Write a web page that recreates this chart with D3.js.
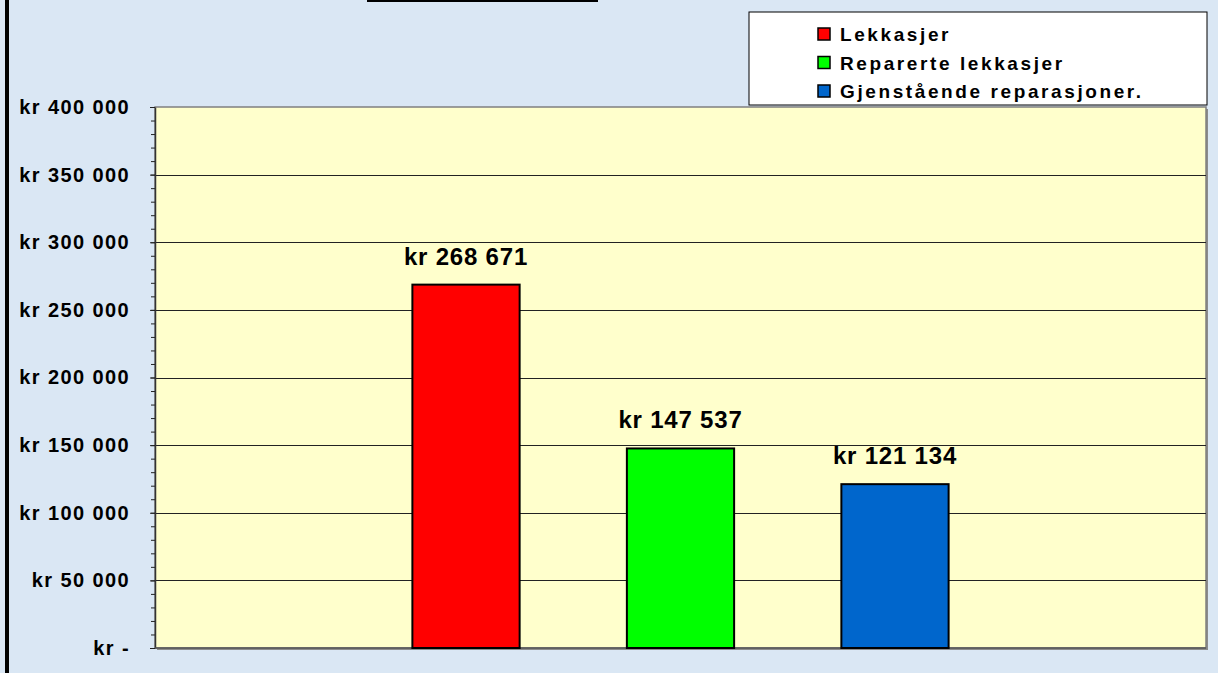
<!DOCTYPE html>
<html>
<head>
<meta charset="utf-8">
<script src="https://cdn.jsdelivr.net/npm/d3@7"></script>
<style>
  body { margin: 0; background: #dae7f4; }
  svg { display: block; font-family: "Liberation Sans", Arial, sans-serif; font-weight: bold; }
</style>
</head>
<body>
<svg id="chart" width="1218" height="673"></svg>
<script>
// chart data
const series = ['Lekkasjer', 'Reparerte lekkasjer', 'Gjenstående reparasjoner.'];
const values = [268671, 147537, 121134];
const colors = ['#ff0000', '#00ff00', '#0066cc'];
const yTicks = [0, 50000, 100000, 150000, 200000, 250000, 300000, 350000, 400000];

const svg = d3.select('#chart');
const plot = { left: 155, right: 1206, top: 107, bottom: 648 };

// kr formatting, space as thousands separator
const fmt = v => v === 0 ? 'kr -' : 'kr ' + d3.format(',')(v).replace(/,/g, ' ');

// background + left rule + clipped title edge
svg.append('rect').attr('width', 1218).attr('height', 673).attr('fill', '#dae7f4');
svg.append('rect').attr('x', 5).attr('y', 0).attr('width', 4).attr('height', 673).attr('fill', '#000');
svg.append('rect').attr('x', 367).attr('y', 0).attr('width', 231).attr('height', 2).attr('fill', '#000');

const y = d3.scaleLinear().domain([0, 400000]).range([plot.bottom, plot.top]);
const x = d3.scaleBand().domain(series).range([plot.left, plot.right])
  .paddingInner(0.5).paddingOuter(1.2);

// plot area with shadow
svg.append('rect')
  .attr('x', plot.left + 2).attr('y', plot.top + 2)
  .attr('width', plot.right - plot.left).attr('height', plot.bottom - plot.top)
  .attr('fill', '#8c8c8c');
svg.append('rect')
  .attr('x', plot.left).attr('y', plot.top)
  .attr('width', plot.right - plot.left).attr('height', plot.bottom - plot.top)
  .attr('fill', '#ffffcc')
  .attr('stroke', '#808080').attr('stroke-width', 1.5);

// gridlines
svg.append('g').selectAll('line')
  .data(yTicks.filter(d => d > 0 && d < 400000))
  .enter().append('line')
  .attr('x1', plot.left).attr('x2', plot.right)
  .attr('y1', d => Math.round(y(d)) + 0.5).attr('y2', d => Math.round(y(d)) + 0.5)
  .attr('stroke', '#222').attr('stroke-width', 1.2);

// minor ticks
svg.append('g')
  .attr('transform', `translate(${plot.left},0)`)
  .call(d3.axisLeft(y).ticks(40).tickSize(4).tickFormat(''))
  .call(g => g.select('.domain').remove())
  .selectAll('line').attr('stroke', '#222');

// y axis
const yAxis = svg.append('g')
  .attr('transform', `translate(${plot.left},0)`)
  .call(d3.axisLeft(y).tickValues(yTicks).tickSize(5).tickPadding(20).tickSizeOuter(0).tickFormat(fmt));
yAxis.select('.domain').attr('stroke', '#333').attr('stroke-width', 1.5);
yAxis.selectAll('line').attr('stroke', '#222');
yAxis.selectAll('text')
  .attr('font-size', 20).attr('font-weight', 'bold').attr('fill', '#000')
  .attr('font-family', '"Liberation Sans", Arial, sans-serif')
  .style('letter-spacing', '1.4px');

// x axis line
svg.append('line')
  .attr('x1', plot.left).attr('x2', plot.right)
  .attr('y1', plot.bottom).attr('y2', plot.bottom)
  .attr('stroke', '#555').attr('stroke-width', 1.5);

// bars
svg.append('g').selectAll('rect')
  .data(series)
  .enter().append('rect')
  .attr('x', d => x(d))
  .attr('y', (d, i) => y(values[i]))
  .attr('width', x.bandwidth())
  .attr('height', (d, i) => y(0) - y(values[i]))
  .attr('fill', (d, i) => colors[i])
  .attr('stroke', '#000').attr('stroke-width', 2);

// value labels
svg.append('g').selectAll('text')
  .data(series)
  .enter().append('text')
  .attr('x', d => x(d) + x.bandwidth() / 2)
  .attr('y', (d, i) => y(values[i]) - 20)
  .attr('text-anchor', 'middle')
  .attr('font-size', 24)
  .style('letter-spacing', '0.8px')
  .text((d, i) => fmt(values[i]));

// legend
const legend = svg.append('g').attr('transform', 'translate(749,12)');
legend.append('rect')
  .attr('width', 458).attr('height', 93)
  .attr('fill', '#fff').attr('stroke', '#000').attr('stroke-width', 1);
const item = legend.selectAll('g.item')
  .data(series)
  .enter().append('g')
  .attr('class', 'item')
  .attr('transform', (d, i) => `translate(69,${16 + i * 28.5})`);
item.append('rect')
  .attr('width', 12).attr('height', 12)
  .attr('fill', (d, i) => colors[i])
  .attr('stroke', '#000').attr('stroke-width', 1.5);
item.append('text')
  .attr('x', 22).attr('y', 13)
  .attr('font-size', 19)
  .style('letter-spacing', '2.6px')
  .text(d => d);
</script>
</body>
</html>
